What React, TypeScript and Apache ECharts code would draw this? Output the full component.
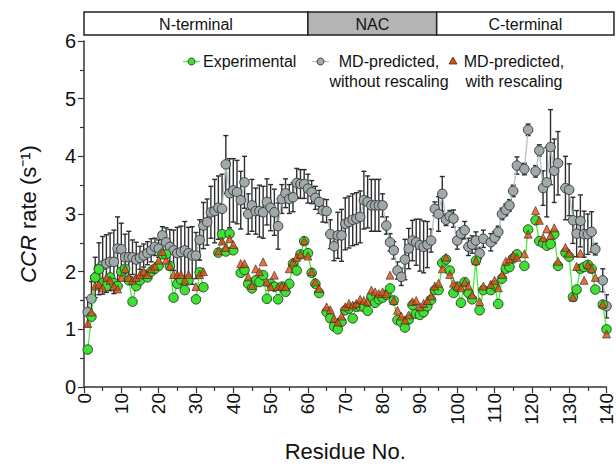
import React, { useEffect, useRef } from "react";
import * as echarts from "echarts";

// residue numbers 1..140
const residues: number[] = Array.from({ length: 140 }, (_, i) => i + 1);

// MD-predicted, without rescaling (grey circles)
const mdRaw: (number | null)[] = [
  1.30, 1.53, 1.90, 2.05, 2.11, 2.14, 2.17, 2.17, 2.40, 2.39,
  2.25, 2.25, 2.25, 2.21, 2.24, 2.28, 2.32, 2.37, 2.43, 2.40,
  2.63, 2.51, 2.43, 2.37, 2.32, 2.34, 2.37, 2.32, 2.28, 2.28,
  2.55, 2.80, 2.86, 3.03, 3.05, 3.11, 3.09, 3.86, 3.36, 3.41,
  3.38, 3.24, 3.55, 3.00, 3.15, 3.05, 3.05, 3.03, 3.21, 3.11,
  3.03, 2.79, 3.26, 3.36, 3.26, 3.29, 3.54, 3.52, 3.52, 3.44,
  3.38, 3.28, 3.21, 3.06, 3.05, 2.65, 2.44, 2.63, 2.63, 2.83,
  2.86, 2.90, 2.92, 2.95, 3.24, 3.21, 3.15, 3.15, 3.15, 3.15,
  2.80, 2.51, 2.37, 2.02, 1.91, 2.21, 2.40, 2.54, 2.51, 2.46,
  2.43, 2.47, 2.54, 3.09, 3.00, 3.35, 2.90, 2.96, 2.92, 2.54,
  2.66, 2.72, 2.43, 2.47, 2.54, 2.32, 2.57, null, 2.51, 2.59,
  2.69, 3.00, 3.07, 3.15, 3.40, 3.84, null, 3.78, 4.46, null,
  3.74, 4.10, 3.45, 3.55, 4.16, 3.75, 3.88, null, 3.45, 3.42,
  2.89, 2.66, 2.88, 2.65, 2.65, 2.69, 2.39, null, 1.85, 1.40,
];

// half-length of the error bars of the grey series
const mdRawErr: (number | null)[] = [
  0.25, 0.30, 0.35, 0.45, 0.50, 0.50, 0.50, 0.55, 0.55, 0.45,
  0.40, 0.45, 0.30, 0.30, 0.20, 0.20, 0.20, 0.20, 0.15, 0.15,
  0.15, 0.25, 0.30, 0.35, 0.45, 0.45, 0.50, 0.45, 0.50, 0.40,
  0.35, 0.40, 0.40, 0.45, 0.55, 0.55, 0.60, 0.50, 0.60, 0.55,
  0.55, 0.50, 0.45, 0.35, 0.45, 0.40, 0.45, 0.45, 0.40, 0.40,
  0.40, 0.40, 0.25, 0.25, 0.25, 0.25, 0.25, 0.25, 0.25, 0.25,
  0.20, 0.20, 0.20, 0.20, 0.20, 0.25, 0.25, 0.40, 0.45, 0.45,
  0.45, 0.45, 0.45, 0.45, 0.50, 0.45, 0.45, 0.45, 0.45, 0.20,
  0.15, 0.15, 0.15, 0.15, 0.15, 0.35, 0.35, 0.35, 0.40, 0.45,
  0.45, 0.40, 0.20, 0.12, 0.30, 0.30, 0.10, 0.10, 0.15, 0.15,
  0.10, 0.15, 0.15, 0.15, 0.15, 0.10, 0.15, null, 0.15, 0.10,
  0.10, 0.10, 0.10, 0.10, 0.10, 0.15, null, 0.10, 0.10, null,
  0.10, 0.10, 0.30, 0.60, 0.65, 0.55, 0.55, null, 0.55, 0.45,
  0.40, 0.40, 0.45, 0.40, 0.35, 0.35, 0.10, null, 0.20, 0.20,
];

// Experimental (green circles)
const experimental: (number | null)[] = [
  0.65, 1.22, 1.90, 2.04, 1.80, 1.75, 1.90, 1.80, 1.75, 2.00,
  2.05, 1.85, 1.48, 1.75, 1.85, 1.95, 1.90, 2.00, 2.05, 2.10,
  2.30, 2.30, 2.10, 1.55, 1.79, 1.86, 1.68, 1.85, null, 1.52,
  1.99, 1.73, null, null, null, 2.33, 2.65, 2.35, 2.66, 2.37,
  null, 1.98, 2.03, 1.79, 1.71, 1.85, 1.82, 1.94, 1.53, 1.79,
  1.74, 1.52, 1.74, 1.65, 1.79, 2.14, 2.02, 2.30, 2.53, 2.32,
  1.98, 1.79, 1.63, null, 1.30, 1.19, 1.05, 1.00, 1.13, 1.33,
  1.36, 1.19, 1.39, 1.40, 1.39, 1.32, 1.56, 1.46, 1.52, 1.55,
  1.60, 1.71, 1.50, 1.16, 1.13, 1.03, 1.17, 1.42, 1.27, 1.25,
  1.30, 1.40, 1.51, 1.68, 1.68, 2.15, 2.21, 2.02, 1.63, 1.74,
  1.46, 1.82, 1.63, 1.52, 2.19, 1.33, 1.68, null, 1.68, 1.76,
  1.44, 1.88, 2.05, 2.08, 2.23, 2.30, null, 2.10, 2.73, null,
  2.89, 2.53, 2.50, 2.45, 2.48, 2.65, 2.10, null, 2.33, 2.26,
  1.56, 1.69, 2.05, 2.08, 2.12, 2.05, 1.69, null, 1.43, 1.00,
];

// MD-predicted, with rescaling (red triangles)
const mdScaled: (number | null)[] = [
  1.10, 1.30, 1.75, 1.78, 1.72, 1.90, 1.85, 1.75, 1.70, 1.90,
  2.05, 1.90, 1.85, 1.90, 1.95, 2.00, 1.95, 2.05, 2.10, 2.20,
  2.35, 2.20, 2.10, 1.95, 1.95, 1.95, 1.85, 1.95, null, 1.74,
  1.95, 2.00, null, null, null, 2.36, 2.53, 2.42, 2.57, 2.47,
  null, 2.14, 2.14, 1.91, 1.76, 2.05, 2.00, 2.17, 1.82, 1.74,
  1.94, 1.74, 1.75, 1.74, 2.05, 2.17, 2.25, 2.30, 2.54, 2.27,
  2.00, 1.82, 1.71, null, 1.39, 1.34, 1.19, 1.13, 1.23, 1.39,
  1.45, 1.42, 1.45, 1.52, 1.50, 1.48, 1.68, 1.65, 1.62, 1.65,
  1.62, 1.94, 1.50, 1.33, 1.23, 1.16, 1.25, 1.48, 1.50, 1.39,
  1.45, 1.50, 1.58, 1.75, 1.80, 2.05, 2.25, 1.95, 1.80, 1.75,
  1.72, 1.82, 1.75, 1.60, 2.19, 1.48, 1.75, null, 1.78, 1.85,
  1.72, 1.95, 2.18, 2.22, 2.28, 2.25, null, 2.31, 2.65, null,
  3.06, 2.89, 2.59, 2.74, 2.63, 2.76, 2.18, null, 2.42, 2.32,
  1.56, 2.09, 2.32, 1.85, 2.12, 2.05, 1.90, null, 1.44, 0.92,
];

// domain band above the plot
const domainNames = ["N-terminal", "NAC", "C-terminal"];
const domainEdges = [0, 60, 94.5, 142];
const domainFills = ["#ffffff", "#b4b4b4", "#ffffff"];

const FONT = "'Liberation Sans', Arial, Helvetica, sans-serif";

export default function App() {
  const ref = useRef<HTMLDivElement>(null);

  useEffect(() => {
    if (!ref.current) return;
    const chart = echarts.init(ref.current, null, { renderer: "svg" });

    const toPairs = (arr: (number | null)[]) =>
      residues.map((r, i) => [r, arr[i] == null ? "-" : arr[i]]);
    const errData = residues
      .map((r, i) =>
        mdRaw[i] == null || mdRawErr[i] == null
          ? null
          : [r, (mdRaw[i] as number) - (mdRawErr[i] as number), (mdRaw[i] as number) + (mdRawErr[i] as number)]
      )
      .filter((d) => d !== null);

    const option: any = {
      animation: false,
      textStyle: { fontFamily: FONT },
      grid: { left: 84, top: 41, width: 526, height: 347 },
      xAxis: {
        type: "value",
        min: 0,
        max: 140,
        interval: 10,
        name: "Residue No.",
        nameLocation: "middle",
        nameGap: 53,
        nameTextStyle: { fontSize: 22, color: "#111", fontFamily: FONT },
        axisLine: { show: true, onZero: false, lineStyle: { color: "#333", width: 1.5 } },
        axisTick: { show: true, inside: false, length: 6, lineStyle: { color: "#333", width: 1.2 } },
        minorTick: { show: true, splitNumber: 2, length: 4, lineStyle: { color: "#333", width: 1.2 } },
        axisLabel: { rotate: 90, fontSize: 19, color: "#111", margin: 6, fontFamily: FONT },
        splitLine: { show: false },
      },
      yAxis: {
        type: "value",
        min: 0,
        max: 6,
        interval: 1,
        name: "{it|CCR} rate (s⁻¹)",
        nameLocation: "middle",
        nameRotate: 90,
        nameGap: 45,
        nameTextStyle: {
          fontSize: 22,
          color: "#111",
          fontFamily: FONT,
          rich: { it: { fontStyle: "italic", fontSize: 22, color: "#111", fontFamily: FONT } },
        },
        axisLine: { show: true, onZero: false, lineStyle: { color: "#333", width: 1.5 } },
        axisTick: { show: true, inside: false, length: 6, lineStyle: { color: "#333", width: 1.2 } },
        minorTick: { show: true, splitNumber: 2, length: 4, lineStyle: { color: "#333", width: 1.2 } },
        axisLabel: { fontSize: 20, color: "#111", margin: 8, fontFamily: FONT },
        splitLine: { show: false },
      },
      series: [
        {
          name: "errorbars",
          type: "custom",
          z: 1,
          data: errData,
          renderItem: (params: any, api: any) => {
            const x = api.value(0);
            const lo = api.coord([x, api.value(1)]);
            const hi = api.coord([x, api.value(2)]);
            const cap = 2.5;
            const style = { stroke: "#2e2e2e", lineWidth: 1.4 };
            return {
              type: "group",
              children: [
                { type: "line", shape: { x1: lo[0], y1: lo[1], x2: hi[0], y2: hi[1] }, style },
                { type: "line", shape: { x1: hi[0] - cap, y1: hi[1], x2: hi[0] + cap, y2: hi[1] }, style },
                { type: "line", shape: { x1: lo[0] - cap, y1: lo[1], x2: lo[0] + cap, y2: lo[1] }, style },
              ],
            };
          },
        },
        {
          name: "MD-predicted, without rescaling",
          type: "line",
          z: 2,
          data: toPairs(mdRaw),
          connectNulls: false,
          symbol: "circle",
          symbolSize: 9.5,
          showAllSymbol: true,
          lineStyle: { color: "#b5c2c6", width: 1.3 },
          itemStyle: { color: "#a0a9ab", borderColor: "#3c3c3c", borderWidth: 1 },
        },
        {
          name: "Experimental",
          type: "line",
          z: 3,
          data: toPairs(experimental),
          connectNulls: false,
          symbol: "circle",
          symbolSize: 9.5,
          showAllSymbol: true,
          lineStyle: { color: "#46ee3c", width: 1.3 },
          itemStyle: { color: "#3ee032", borderColor: "#2f4a2c", borderWidth: 1 },
        },
        {
          name: "MD-predicted, with rescaling",
          type: "scatter",
          z: 4,
          data: toPairs(mdScaled),
          symbol: "triangle",
          symbolSize: 8,
          itemStyle: { color: "#dd4c14", borderColor: "#3a2a20", borderWidth: 0.8 },
        },
      ],
    };

    chart.setOption(option);

    // band of domains, positioned from the x axis scale
    const bandTop = 12;
    const bandH = 23;
    const bandChildren: any[] = [];
    for (let i = 0; i < domainNames.length; i++) {
      const x0 = chart.convertToPixel({ xAxisIndex: 0 }, domainEdges[i]) as number;
      const x1 = chart.convertToPixel({ xAxisIndex: 0 }, domainEdges[i + 1]) as number;
      bandChildren.push({
        type: "rect",
        shape: { x: x0, y: bandTop, width: x1 - x0, height: bandH },
        style: { fill: domainFills[i], stroke: "#222", lineWidth: 1.5 },
      });
      bandChildren.push({
        type: "text",
        x: (x0 + Math.min(x1, 616)) / 2,
        y: bandTop + bandH / 2 + 1,
        style: {
          text: domainNames[i],
          fontSize: 16,
          fontFamily: FONT,
          fill: "#111",
          align: "center",
          verticalAlign: "middle",
        },
      });
    }

    const ly = 61.5;
    const legend: any[] = [
      { type: "line", shape: { x1: 183, y1: ly, x2: 200, y2: ly }, style: { stroke: "#46ee3c", lineWidth: 1.3 } },
      { type: "circle", shape: { cx: 191.5, cy: ly, r: 3.5 }, style: { fill: "#3ee032", stroke: "#2f4a2c", lineWidth: 1 } },
      {
        type: "text",
        x: 203,
        y: ly,
        style: { text: "Experimental", fontSize: 16, fontFamily: FONT, fill: "#111", align: "left", verticalAlign: "middle" },
      },
      { type: "line", shape: { x1: 312, y1: ly, x2: 329, y2: ly }, style: { stroke: "#b5c2c6", lineWidth: 1.3 } },
      { type: "circle", shape: { cx: 320.5, cy: ly, r: 3.5 }, style: { fill: "#a0a9ab", stroke: "#3c3c3c", lineWidth: 1 } },
      {
        type: "text",
        x: 389,
        y: ly,
        style: { text: "MD-predicted,", fontSize: 16, fontFamily: FONT, fill: "#111", align: "center", verticalAlign: "middle" },
      },
      {
        type: "text",
        x: 389,
        y: ly + 20,
        style: { text: "without rescaling", fontSize: 16, fontFamily: FONT, fill: "#111", align: "center", verticalAlign: "middle" },
      },
      {
        type: "polygon",
        shape: { points: [[453, ly - 4.5], [457, ly + 2.5], [449, ly + 2.5]] },
        style: { fill: "#dd4c14", stroke: "#3a2a20", lineWidth: 0.8 },
      },
      {
        type: "text",
        x: 514,
        y: ly,
        style: { text: "MD-predicted,", fontSize: 16, fontFamily: FONT, fill: "#111", align: "center", verticalAlign: "middle" },
      },
      {
        type: "text",
        x: 514,
        y: ly + 20,
        style: { text: "with rescaling", fontSize: 16, fontFamily: FONT, fill: "#111", align: "center", verticalAlign: "middle" },
      },
    ];

    chart.setOption({ graphic: [...bandChildren, ...legend] });

    return () => chart.dispose();
  }, []);

  return (
    <div
      ref={ref}
      style={{ position: "fixed", left: 0, top: 0, width: 616, height: 467, background: "#fff" }}
    />
  );
}
